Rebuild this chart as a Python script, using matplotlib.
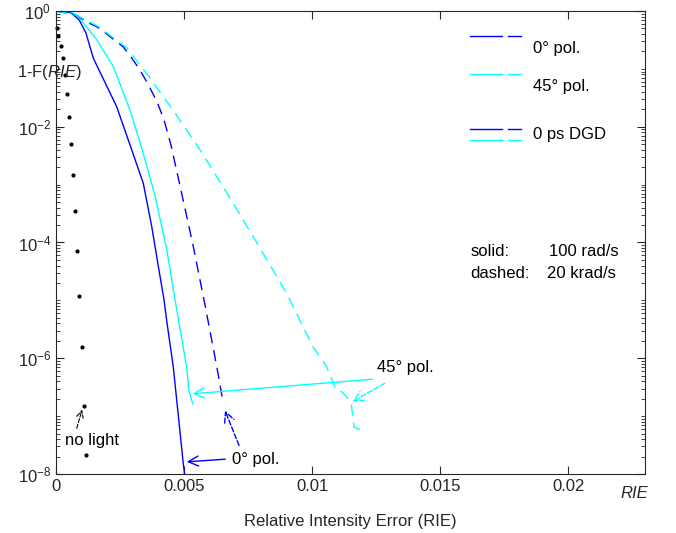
import numpy as np
import matplotlib
matplotlib.use("Agg")
import matplotlib.pyplot as plt
from matplotlib.ticker import LogLocator, NullFormatter, FixedLocator

plt.rcParams['font.family'] = ['Liberation Sans', 'DejaVu Sans']
plt.rcParams['mathtext.fontset'] = 'custom'
plt.rcParams['mathtext.rm'] = 'Liberation Sans'
plt.rcParams['mathtext.it'] = 'Liberation Sans:italic'
plt.rcParams['mathtext.default'] = 'regular'

# 0 deg pol., 100 rad/s (solid blue)  -- y given as log10
x_b_sol = [0, 0.000586, 0.00091, 0.00117, 0.00146, 0.00237, 0.00296, 0.00341,
           0.00374, 0.0040, 0.00422, 0.00432, 0.00458, 0.00497, 0.00502]
ly_b_sol = [0, -0.029, -0.156, -0.380, -0.817, -1.653, -2.402, -2.978,
            -3.727, -4.419, -4.993, -5.339, -6.146, -7.815, -8.0]

# 45 deg pol., 100 rad/s (solid cyan)
x_c_sol = [0, 0.000547, 0.00082, 0.00129, 0.0016, 0.00203, 0.00224, 0.00289, 0.00337,
           0.00387, 0.00433, 0.00465, 0.0051, 0.00519, 0.00534]
ly_c_sol = [0, -0.0086, -0.069, -0.328, -0.501, -0.812, -0.962, -1.711, -2.402,
            -3.197, -4.13, -4.993, -6.145, -6.549, -6.79]

# 0 deg pol., 20 krad/s (dashed blue)
x_b_dash = [0, 0.00078, 0.00126, 0.00159, 0.00195, 0.00228, 0.00262, 0.00293, 0.00328,
            0.00359, 0.00395, 0.00422, 0.00449, 0.00488, 0.00535, 0.00582, 0.00628,
            0.00651]
ly_b_dash = [0, -0.069, -0.202, -0.271, -0.385, -0.501, -0.617, -0.795, -1.019,
             -1.261, -1.572, -1.883, -2.315, -3.093, -4.043, -5.080, -6.146,
             -6.721]

# 45 deg pol., 20 krad/s (dashed cyan)
x_c_dash = [0, 0.00078, 0.0013, 0.00168, 0.00277, 0.00367, 0.00465, 0.00563,
            0.00672, 0.00785, 0.00902, 0.01004, 0.01057, 0.01094, 0.01117,
            0.01152, 0.01164, 0.01207]
ly_c_dash = [0, -0.069, -0.185, -0.276, -0.639, -1.158, -1.763, -2.402,
             -3.179, -4.009, -4.890, -5.806, -6.146, -6.549, -6.583,
             -6.756, -7.188, -7.274]

# no light
x_dark = [0.00004, 0.00008, 0.0002, 0.00027, 0.00035, 0.00043, 0.00051, 0.00059, 0.00066,
          0.00074, 0.00082, 0.0009, 0.001, 0.0011, 0.00117]
ly_dark = [-0.294, -0.432, -0.605, -0.812, -1.106, -1.434, -1.832, -2.298, -2.834,
           -3.456, -4.147, -4.924, -5.806, -6.825, -7.672]

fig = plt.figure(figsize=(6.76, 5.33), dpi=100)
ax = fig.add_axes([0.0828, 0.1107, 0.8713, 0.8687])

pw = 1.0
ax.semilogy(x_b_sol, 10 ** np.array(ly_b_sol), color='blue', lw=pw)
ax.semilogy(x_c_sol, 10 ** np.array(ly_c_sol), color='cyan', lw=pw)
ax.semilogy(x_b_dash, 10 ** np.array(ly_b_dash), color='blue', lw=pw, dashes=(8, 5))
ax.semilogy(x_c_dash, 10 ** np.array(ly_c_dash), color='cyan', lw=pw, dashes=(8, 5))
ax.semilogy(x_dark, 10 ** np.array(ly_dark), 'k.', ms=4, clip_on=False)

ax.set_xlim(0, 0.023)
ax.set_ylim(1e-8, 1)
ax.set_xticks([0, 0.005, 0.01, 0.015, 0.02])
ax.set_xticklabels(['0', '0.005', '0.01', '0.015', '0.02'])
ax.yaxis.set_major_locator(FixedLocator([1e-8, 1e-6, 1e-4, 1e-2, 1]))
ax.yaxis.set_minor_locator(LogLocator(base=10, subs=np.arange(1, 10), numticks=20))
ax.yaxis.set_minor_formatter(NullFormatter())
ax.tick_params(which='both', direction='in', top=True, right=True, labelsize=12,
               colors='#262626', labelcolor='#262626')
ax.tick_params(which='major', length=6, width=0.8)
ax.tick_params(which='minor', length=3, width=0.6)
for s in ax.spines.values():
    s.set_color('#262626')
    s.set_linewidth(0.8)

# arrows and labels
arr = dict(arrowstyle='->', lw=1, mutation_scale=18)
ax.annotate('', xy=(0.005, 10 ** -7.793), xytext=(0.00672, 10 ** -7.741),
            arrowprops=dict(arr, color='blue'))
ax.annotate('', xy=(0.00523, 10 ** -6.618), xytext=(0.01246, 10 ** -6.359),
            arrowprops=dict(arr, color='cyan'))
ax.annotate('', xy=(0.00656, 10 ** -6.86), xytext=(0.00719, 10 ** -7.551),
            arrowprops=dict(arr, color='blue', ls='--'))
ax.annotate('', xy=(0.01148, 10 ** -6.773), xytext=(0.01293, 10 ** -6.41),
            arrowprops=dict(arr, color='cyan', ls='--'))
ax.annotate('', xy=(0.00105, 10 ** -6.842), xytext=(0.00078, 10 ** -7.257),
            arrowprops=dict(arrowstyle='->', lw=0.8, mutation_scale=12, color='black', ls='--'))
ax.text(0.006875, 10 ** -7.758, '0° pol.', fontsize=12, ha='left', va='center')
ax.text(0.01254, 10 ** -6.168, '45° pol.', fontsize=12, ha='left', va='center')
ax.text(0.00035, 10 ** -7.413, 'no light', fontsize=12, ha='left', va='center')

# hand-made legend
tr = ax.transAxes
for y, c in [(0.9467, 'blue'), (0.8633, 'cyan'), (0.7445, 'blue'), (0.7214, 'cyan')]:
    ax.plot([0.703, 0.757], [y, y], color=c, lw=1, transform=tr)
    ax.plot([0.768, 0.789], [y, y], color=c, lw=1, transform=tr)
ax.text(0.81, 0.920, '0° pol.', fontsize=12, transform=tr, va='center')
ax.text(0.81, 0.836, '45° pol.', fontsize=12, transform=tr, va='center')
ax.text(0.81, 0.7322, '0 ps DGD', fontsize=12, transform=tr, va='center')
ax.text(0.704, 0.4795, 'solid:', fontsize=12, transform=tr, va='center')
ax.text(0.837, 0.4795, '100 rad/s', fontsize=12, transform=tr, va='center')
ax.text(0.704, 0.434, 'dashed:', fontsize=12, transform=tr, va='center')
ax.text(0.833, 0.434, '20 krad/s', fontsize=12, transform=tr, va='center')

fig.text(0.025, 0.864, r'1-F($\mathit{RIE}$)', fontsize=12, va='center', ha='left',
         color='#262626')
fig.text(0.9186, 0.075, 'RIE', fontsize=12, style='italic', va='center', color='#262626')
fig.text(0.518, 0.0225, 'Relative Intensity Error (RIE)', fontsize=12, ha='center',
         va='center', color='#262626')

fig.savefig('out.png', dpi=100)
